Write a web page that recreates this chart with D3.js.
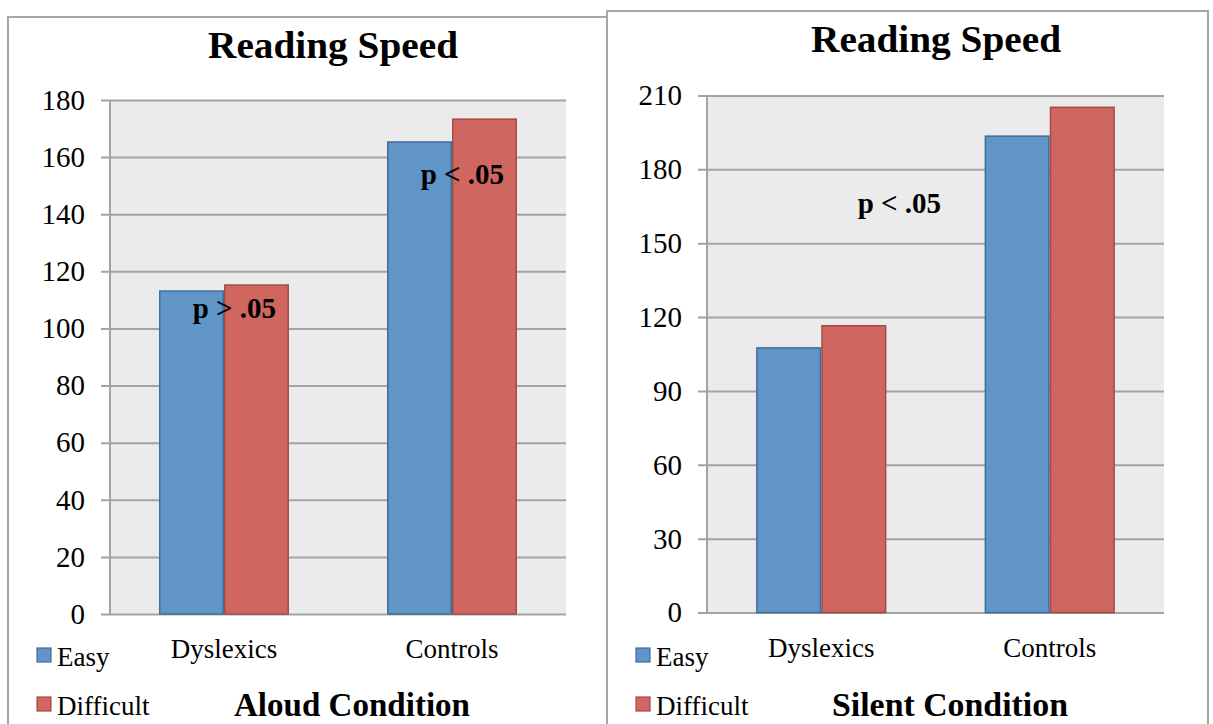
<!DOCTYPE html>
<html>
<head>
<meta charset="utf-8">
<script src="https://cdn.jsdelivr.net/npm/d3@7"></script>
<style>
  html, body { margin: 0; padding: 0; background: #ffffff; }
  svg { display: block; }
</style>
</head>
<body>
<svg id="chart" width="1213" height="724"></svg>
<script>
// Reading speed by group, for easy and difficult texts
const categories = ["Dyslexics", "Controls"];
const seriesNames = ["Easy", "Difficult"];
const seriesColors = ["#6195c8", "#cf665f"];
const seriesStrokes = ["#3f6d9c", "#a24c47"];

const aloudEasy = [113.1, 165.3];
const aloudDifficult = [115.2, 173.3];
const silentEasy = [107.5, 193.5];
const silentDifficult = [116.5, 205.2];

const aloudTicks = [0, 20, 40, 60, 80, 100, 120, 140, 160, 180];
const silentTicks = [0, 30, 60, 90, 120, 150, 180, 210];

const aloudNotes = ["p > .05", "p < .05"];
const silentNotes = ["p < .05"];

const svg = d3.select("#chart");
const serif = "'Liberation Serif', 'Times New Roman', serif";

function drawPanel(cfg) {
  const g = svg.append("g");

  // panel frame (runs past the bottom edge)
  g.append("rect")
    .attr("x", cfg.frame[0]).attr("y", cfg.frame[1])
    .attr("width", cfg.frame[2]).attr("height", 800)
    .attr("fill", "#ffffff").attr("stroke", "#a6a6a6").attr("stroke-width", 2);

  const x = d3.scaleBand().domain(categories)
    .range([cfg.x0, cfg.x1]).paddingInner(0.43).paddingOuter(0.215);
  const xs = d3.scaleBand().domain(seriesNames).range([0, x.bandwidth()]);
  const y = d3.scaleLinear().domain([0, d3.max(cfg.ticks)]).range([cfg.y1, cfg.y0]);

  // plot area
  g.append("rect")
    .attr("x", cfg.x0).attr("y", cfg.y0)
    .attr("width", cfg.x1 - cfg.x0).attr("height", cfg.y1 - cfg.y0)
    .attr("fill", "#ebebeb");

  // gridlines, tick stubs and labels
  const stub = 9;
  const axis = d3.axisLeft(y).tickValues(cfg.ticks)
    .tickSizeInner(-(cfg.x1 - cfg.x0 + stub)).tickSizeOuter(0)
    .tickPadding(cfg.labelGap).tickFormat(d3.format("d"));
  const ax = g.append("g")
    .attr("transform", `translate(${cfg.x0 - stub},0)`)
    .call(axis);
  ax.select(".domain").remove();
  ax.selectAll(".tick line").attr("stroke", "#a3a3a3").attr("stroke-width", 2);
  ax.selectAll(".tick text")
    .attr("font-family", serif).attr("font-size", 29).attr("fill", "#000");

  // vertical axis line
  g.append("line")
    .attr("x1", cfg.x0).attr("x2", cfg.x0)
    .attr("y1", cfg.y0).attr("y2", cfg.y1)
    .attr("stroke", "#a3a3a3").attr("stroke-width", 2);

  // bars
  const rows = categories.map((c, i) => ({ cat: c, vals: [cfg.easy[i], cfg.difficult[i]] }));
  const grp = g.selectAll(".cat").data(rows).enter().append("g")
    .attr("transform", d => `translate(${x(d.cat)},0)`);
  grp.selectAll("rect")
    .data(d => d.vals.map((v, j) => ({ s: seriesNames[j], v, j })))
    .enter().append("rect")
    .attr("x", d => xs(d.s) + 0.75)
    .attr("width", xs.bandwidth() - 1.5)
    .attr("y", d => y(d.v))
    .attr("height", d => y(0) - y(d.v))
    .attr("fill", d => seriesColors[d.j])
    .attr("stroke", d => seriesStrokes[d.j])
    .attr("stroke-width", 1.5);

  // category labels
  g.selectAll(".catlabel").data(categories).enter().append("text")
    .attr("x", d => x(d) + x.bandwidth() / 2)
    .attr("y", cfg.y1 + 44)
    .attr("text-anchor", "middle")
    .attr("font-family", serif).attr("font-size", 27)
    .text(d => d);

  // significance notes
  cfg.notes.forEach((t, i) => {
    const n = cfg.notePos[i];
    g.append("text")
      .attr("x", x(categories[n.cat]) + x.bandwidth() * n.frac)
      .attr("y", y(n.v))
      .attr("text-anchor", "middle")
      .attr("font-family", serif).attr("font-weight", "bold").attr("font-size", 29)
      .text(t);
  });

  // titles
  g.append("text")
    .attr("x", cfg.titleX).attr("y", cfg.titleY)
    .attr("text-anchor", "middle")
    .attr("font-family", serif).attr("font-weight", "bold").attr("font-size", 37)
    .attr("textLength", 250).attr("lengthAdjust", "spacingAndGlyphs")
    .text("Reading Speed");
  g.append("text")
    .attr("x", cfg.subX).attr("y", 716)
    .attr("text-anchor", "middle")
    .attr("font-family", serif).attr("font-weight", "bold").attr("font-size", 33)
    .attr("textLength", 236).attr("lengthAdjust", "spacingAndGlyphs")
    .text(cfg.subtitle);

  // legend
  seriesNames.forEach((s, i) => {
    const ly = 648 + i * 49;
    g.append("rect")
      .attr("x", cfg.legendX).attr("y", ly).attr("width", 14).attr("height", 14)
      .attr("fill", seriesColors[i]).attr("stroke", seriesStrokes[i]).attr("stroke-width", 1.2);
    g.append("text")
      .attr("x", cfg.legendX + 20).attr("y", ly + 18)
      .attr("font-family", serif).attr("font-size", 27)
      .text(s);
  });
}

drawPanel({
  frame: [8, 17, 600], x0: 110, x1: 566, y0: 100, y1: 614,
  ticks: aloudTicks, easy: aloudEasy, difficult: aloudDifficult,
  labelGap: 16, notes: aloudNotes,
  notePos: [{ cat: 0, frac: 0.58, v: 103.7 }, { cat: 1, frac: 0.58, v: 150.6 }],
  titleX: 333, titleY: 58, subX: 352, subtitle: "Aloud Condition", legendX: 37
});

drawPanel({
  frame: [607, 11, 601], x0: 707, x1: 1164, y0: 95.5, y1: 612.6,
  ticks: silentTicks, easy: silentEasy, difficult: silentDifficult,
  labelGap: 16, notes: silentNotes,
  notePos: [{ cat: 0, frac: 1.1, v: 162.4 }],
  titleX: 936, titleY: 52, subX: 950, subtitle: "Silent Condition", legendX: 636
});
</script>
</body>
</html>
